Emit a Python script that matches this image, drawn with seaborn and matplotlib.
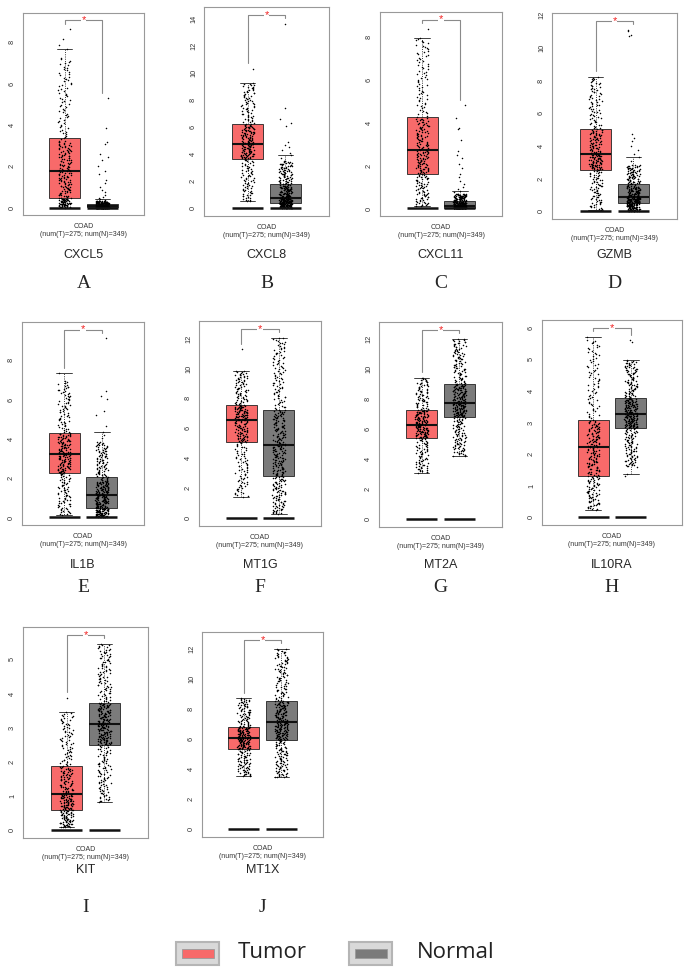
import numpy as np
import pandas as pd
import matplotlib
matplotlib.use("Agg")
import matplotlib.pyplot as plt
from matplotlib.patches import Rectangle, FancyBboxPatch
import seaborn as sns

# %%
genes = ["CXCL5", "CXCL8", "CXCL11", "GZMB", "IL1B",
         "MT1G", "MT2A", "IL10RA", "KIT", "MT1X"]
letters = ["A", "B", "C", "D", "E", "F", "G", "H", "I", "J"]
groups = ["Tumor", "Normal"]
n_tumor = 275
n_normal = 349

# boxes: lower whisker, q1, median, q3, upper whisker
tumor_box = [
    [0.00, 0.45, 1.73, 3.21, 7.24],
    [0.50, 3.65, 4.75, 6.15, 9.25],
    [0.10, 1.60, 2.70, 4.20, 7.95],
    [0.10, 2.55, 3.50, 5.00, 8.20],
    [0.13, 2.27, 3.22, 4.28, 6.93],
    [1.45, 5.07, 6.57, 7.52, 9.85],
    [3.10, 5.40, 6.30, 7.25, 9.40],
    [0.25, 1.30, 2.22, 3.05, 5.62],
    [0.08, 0.60, 1.05, 1.85, 3.45],
    [3.55, 5.35, 6.10, 6.82, 8.70],
]
normal_box = [
    [0.00, 0.00, 0.05, 0.13, 0.32],
    [0.00, 0.35, 0.70, 1.62, 3.50],
    [0.00, 0.02, 0.10, 0.29, 0.68],
    [0.00, 0.50, 0.80, 1.50, 2.85],
    [0.00, 0.47, 1.10, 1.87, 3.85],
    [0.30, 2.85, 4.88, 7.23, 12.05],
    [4.20, 6.80, 7.75, 9.00, 12.00],
    [1.60, 2.83, 3.27, 3.77, 4.97],
    [0.83, 2.50, 3.10, 3.73, 5.45],
    [3.45, 5.95, 7.10, 8.50, 12.00],
]
# single points outside the whiskers
tumor_out = [
    [8.63, 8.15, 7.88, 7.67],
    [10.3],
    [8.37],
    [],
    [7.33],
    [11.26],
    [],
    [5.72],
    [3.88],
    [],
]
normal_out = [
    [5.3, 3.85, 3.15, 3.1, 2.6, 2.45, 2.3, 2.0, 1.75, 1.6, 1.35, 1.2,
     1.0, 0.85, 0.75, 0.6, 0.5, 0.45, 0.4, 0.38],
    [13.6, 7.4, 6.6, 6.3, 6.1, 4.9, 4.7, 4.5, 4.3, 4.1, 3.9, 3.7],
    [4.8, 4.2, 3.75, 3.7, 3.2, 2.65, 2.5, 2.35, 2.05, 1.9, 1.6, 1.45,
     1.3, 1.15, 1.0, 0.9, 0.8, 0.75],
    [11.1, 11.05, 10.75, 10.7, 4.75, 4.5, 4.3, 4.0, 3.75, 3.5, 3.3, 3.1],
    [9.1, 6.45, 6.2, 6.0, 5.4, 5.2, 4.65, 4.35, 4.2, 4.05],
    [],
    [],
    [5.6, 5.55, 1.38, 1.32],
    [],
    [],
]
y_step = [2, 2, 2, 2, 2, 2, 2, 1, 1, 2]

# %%
W, H = 693, 968
# axes frames in pixels: left, top, right, bottom
frames = [
    (23, 13, 144, 215), (204, 7, 329, 216), (380, 12, 502, 216), (552, 13, 677, 219),
    (22, 322, 144, 525), (199, 321, 321, 526), (379, 322, 502, 527), (542, 320, 682, 525),
    (23, 627, 148, 838), (202, 632, 323, 837),
]
gene_y = [255] * 4 + [565] * 4 + [870] * 2
letter_y = [283] * 4 + [587] * 4 + [908] * 2
palette = {"Tumor": "#F86A6A", "Normal": "#7B7B7B"}


def expand(box, outliers, n):
    # spread the non-outlier samples over the read five-number summary
    m = n - len(outliers)
    vals = np.interp(np.linspace(0, 1, m), [0, 0.25, 0.5, 0.75, 1], box)
    return list(vals) + list(outliers)


sns.set_style("white")
plt.rcParams["font.family"] = ["Liberation Sans", "DejaVu Sans"]
np.random.seed(3)

fig = plt.figure(figsize=(W / 100, H / 100), dpi=100)

for i, gene in enumerate(genes):
    x0, y0, x1, y1 = frames[i]
    ax = fig.add_axes([x0 / W, 1 - y1 / H, (x1 - x0) / W, (y1 - y0) / H])
    t_vals = expand(tumor_box[i], tumor_out[i], n_tumor)
    n_vals = expand(normal_box[i], normal_out[i], n_normal)
    df = pd.DataFrame({
        "group": ["Tumor"] * len(t_vals) + ["Normal"] * len(n_vals),
        "value": t_vals + n_vals,
    })
    sns.boxplot(
        data=df, x="group", y="value", hue="group",
        order=groups, hue_order=groups, palette=palette,
        saturation=1, width=0.82, showfliers=False,
        linewidth=0.6, linecolor="#222222",
        medianprops=dict(linewidth=1.5, color="#111111"),
        whiskerprops=dict(linestyle=(0, (1.2, 1.5)), linewidth=0.6),
        legend=False, ax=ax,
    )
    sns.stripplot(
        data=df, x="group", y="value", order=groups,
        color="black", size=1.1, jitter=0.17, linewidth=0,
        ax=ax,
    )
    ax.hlines([0, 0], [-0.41, 0.59], [0.41, 1.41], color="#111111", lw=1.8, zorder=5)

    # significance bracket
    top = max(df["value"])
    yb = top * 1.05
    gap = yb * 0.03
    ax.plot([0, 0, 1, 1],
            [max(t_vals) + gap, yb, yb, max(n_vals) + gap],
            color="#8a8a8a", lw=0.8, zorder=6)
    ax.text(0.5, yb, "*", color="#F22222", ha="center", va="center",
            fontsize=8, zorder=7,
            bbox=dict(facecolor="white", edgecolor="none", pad=0.3))

    half = (x1 - x0) / 2 / 37.7
    ymax = yb * 1.04
    ax.set_xlim(0.5 - half, 0.5 + half)
    ax.set_ylim(-0.04 * yb, ymax)
    ticks = np.arange(0, ymax, y_step[i])
    ax.set_yticks(ticks)
    ax.set_yticklabels([f"{v:g}" for v in ticks])
    ax.set_xticks([0.5])
    ax.set_xticklabels(["COAD\n(num(T)=275; num(N)=349)"])
    ax.set_xlabel("")
    ax.set_ylabel("")
    ax.tick_params(axis="y", labelrotation=90, labelsize=5.3, length=3,
                   width=0.6, color="#666666", labelcolor="#333333", pad=2)
    ax.tick_params(axis="x", labelsize=5, length=3, width=0.6,
                   color="#666666", labelcolor="#333333", pad=2.5)
    for lab in ax.get_yticklabels():
        lab.set_va("center")
    for sp in ax.spines.values():
        sp.set_color("#999999")
        sp.set_linewidth(0.8)

    cx = (x0 + x1) / 2
    fig.text(cx / W, 1 - gene_y[i] / H, gene, ha="center", va="center",
             fontsize=9, family=["Liberation Sans", "DejaVu Sans"])
    fig.text(cx / W, 1 - letter_y[i] / H, letters[i], ha="center", va="center",
             fontsize=14, family=["Liberation Serif", "DejaVu Serif"])

# legend at the bottom
for (ox, tx), name in zip([(176, 238), (349, 417)], groups):
    fig.patches.append(FancyBboxPatch(
        (ox / W, 1 - 965 / H), 43 / W, 23 / H,
        boxstyle="square,pad=0", transform=fig.transFigure,
        facecolor="#D9D9D9", edgecolor="#B5B5B5", lw=1.5))
    fig.patches.append(Rectangle(
        ((ox + 6) / W, 1 - 958 / H), 32 / W, 9 / H,
        transform=fig.transFigure, facecolor=palette[name],
        edgecolor="#9a9a9a", lw=0.6))
    fig.text(tx / W, 1 - 953 / H, name, ha="left", va="center",
             fontsize=16, family=["Open Sans", "DejaVu Sans"], color="#222222")

plt.savefig("out.png", dpi=100)
